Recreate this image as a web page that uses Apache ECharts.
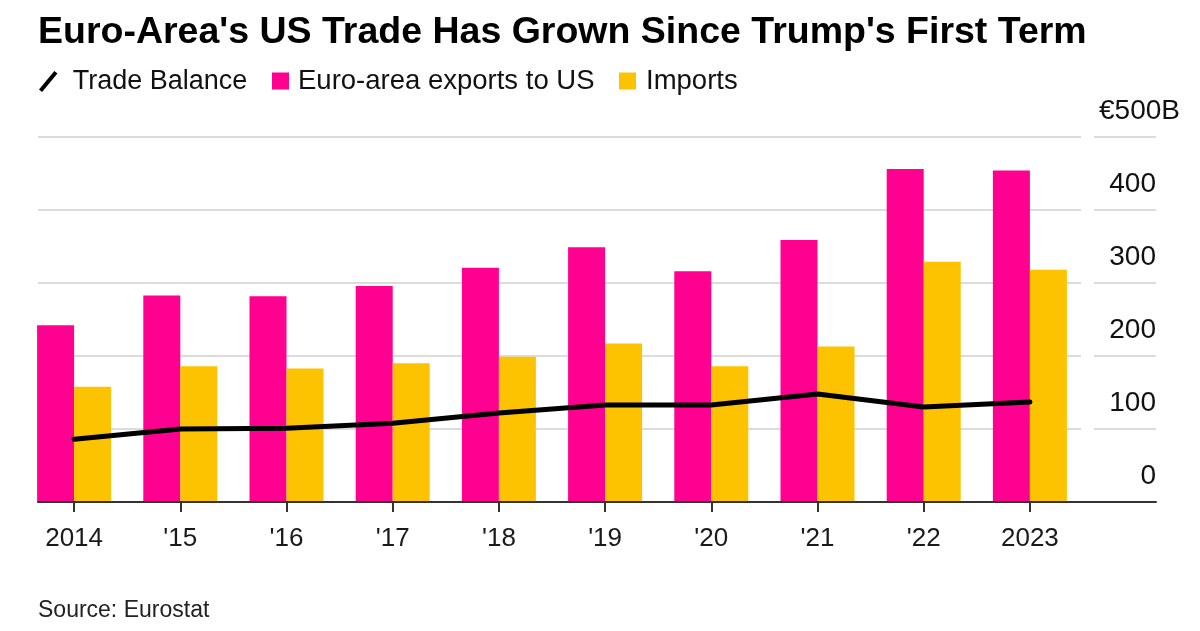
<!DOCTYPE html>
<html>
<head>
<meta charset="utf-8">
<script src="https://cdn.jsdelivr.net/npm/echarts@6/dist/echarts.min.js"></script>
<style>
html,body{margin:0;padding:0;background:#fff;}
#c{width:1200px;height:631px;}
</style>
</head>
<body>
<div id="c"></div>
<script>
const categories = ['2014', "'15", "'16", "'17", "'18", "'19", "'20", "'21", "'22", '2023'];
const exportsToUS = [242, 283, 282, 296, 321, 349, 316, 359, 456, 454];
const imports = [158, 186, 183, 190, 199, 217, 186, 213, 329, 318];
const tradeBalance = [86, 100, 101, 108, 122, 133, 133, 148, 130, 137];
const yMin = 0, yMax = 500, yStep = 100;

const FONT = '"Liberation Sans", Arial, sans-serif';
const PINK = '#FF0090';
const YELLOW = '#FDC300';
const GRIDC = '#dcdcdc';

const chart = echarts.init(document.getElementById('c'), null, {renderer: 'canvas'});

const hiddenY = (gi) => ({gridIndex: gi, type: 'value', min: yMin, max: yMax, interval: yStep, show: false});

const option = {
  backgroundColor: '#fff',
  animation: false,
  textStyle: {fontFamily: FONT},
  title: [
    {text: "Euro-Area's US Trade Has Grown Since Trump's First Term", left: 33, top: 9,
     textStyle: {fontFamily: FONT, fontSize: 37.5, fontWeight: 'bold', color: '#000'}},
    {text: 'Source: Eurostat', left: 33, top: 594,
     textStyle: {fontFamily: FONT, fontSize: 23, fontWeight: 'normal', color: '#222'}}
  ],
  legend: [
    {left: 34, top: 63, itemWidth: 23, itemHeight: 21,
     data: [{name: 'Trade Balance', icon: 'path://M0,18 L15,0 L18,2.5 L3,20.5 Z', itemStyle: {color: '#000'}}],
     textStyle: {fontFamily: FONT, fontSize: 27, color: '#111', padding: [0, 0, 0, 8]}},
    {left: 267, top: 62, itemWidth: 17, itemHeight: 17,
     data: [{name: 'Euro-area exports to US', icon: 'rect'}],
     textStyle: {fontFamily: FONT, fontSize: 27.5, color: '#111', padding: [0, 0, 0, 4]}},
    {left: 614, top: 62, itemWidth: 17, itemHeight: 17,
     data: [{name: 'Imports', icon: 'rect'}],
     textStyle: {fontFamily: FONT, fontSize: 27.5, color: '#111', padding: [0, 0, 0, 5]}}
  ],
  grid: [
    {left: 21, right: 117, top: 137, bottom: 129},
    {left: 38, right: 119, top: 137, bottom: 129},
    {left: 1094, right: 44, top: 137, bottom: 129},
    {left: 38, right: 44, top: 137, bottom: 129}
  ],
  xAxis: [
    {gridIndex: 0, type: 'category', data: categories,
     axisLine: {show: false},
     axisTick: {show: true, alignWithLabel: true, length: 10, lineStyle: {color: '#333', width: 2}},
     axisLabel: {fontFamily: FONT, fontSize: 26, color: '#1a1a1a', margin: 24},
     z: 6},
    {gridIndex: 1, type: 'value', min: 0, max: 1, show: false},
    {gridIndex: 2, type: 'value', min: 0, max: 1, show: false},
    {gridIndex: 3, type: 'value', min: 0, max: 1, position: 'bottom',
     axisLine: {show: true, lineStyle: {color: '#333', width: 2}},
     axisTick: {show: false}, axisLabel: {show: false}, splitLine: {show: false}, z: 5}
  ],
  yAxis: [
    hiddenY(0),
    {gridIndex: 1, type: 'value', min: yMin, max: yMax, interval: yStep,
     axisLine: {show: false}, axisTick: {show: false}, axisLabel: {show: false},
     splitLine: {show: true, lineStyle: {color: GRIDC, width: 2}}},
    {gridIndex: 2, type: 'value', min: yMin, max: yMax, interval: yStep, position: 'right',
     axisLine: {show: false}, axisTick: {show: false},
     splitLine: {show: true, lineStyle: {color: GRIDC, width: 2}},
     axisLabel: {
       show: true, inside: false, margin: 24, align: 'right', verticalAlign: 'bottom',
       fontFamily: FONT, fontSize: 28, color: '#111', lineHeight: 30, padding: [0, 0, 11, 0],
       formatter: (v) => v === yMax ? '€' + v + 'B' : '{n|' + v + '}',
       rich: {n: {fontFamily: FONT, fontSize: 28, color: '#111', lineHeight: 30, padding: [0, 24, 0, 0]}}
     }},
    {gridIndex: 3, type: 'value', min: 0, max: 1, show: false}
  ],
  series: [
    {name: 'Euro-area exports to US', type: 'bar', xAxisIndex: 0, yAxisIndex: 0,
     data: exportsToUS, barWidth: 37, barGap: '0%', itemStyle: {color: PINK}, z: 2},
    {name: 'Imports', type: 'bar', xAxisIndex: 0, yAxisIndex: 0,
     data: imports, barWidth: 37, barGap: '0%', itemStyle: {color: YELLOW}, z: 2},
    {name: 'Trade Balance', type: 'line', xAxisIndex: 0, yAxisIndex: 0,
     data: tradeBalance, symbol: 'none', lineStyle: {color: '#000', width: 5, cap: 'round', join: 'round'},
     itemStyle: {color: '#000'}, z: 4}
  ]
};
chart.setOption(option);
</script>
</body>
</html>
